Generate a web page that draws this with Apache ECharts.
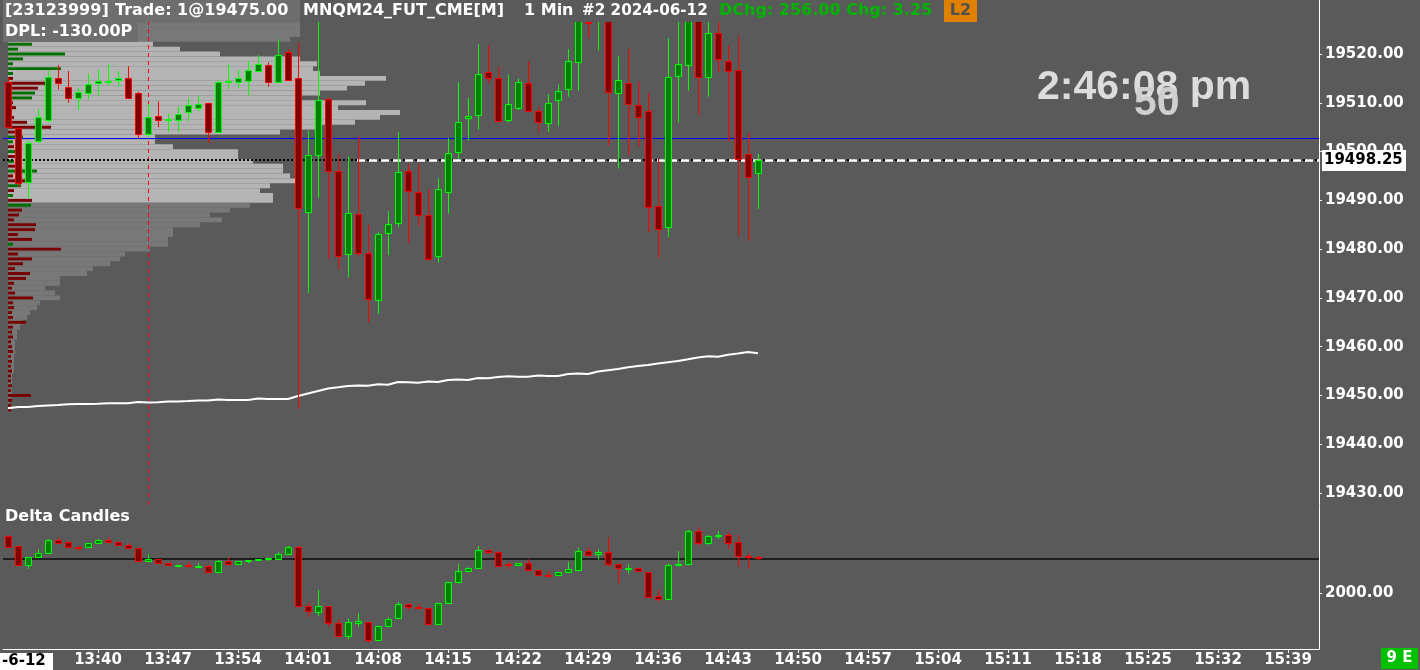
<!DOCTYPE html>
<html><head><meta charset="utf-8">
<script src="https://cdn.jsdelivr.net/npm/echarts@6/dist/echarts.min.js"></script>
<style>html,body{margin:0;padding:0;background:#5a5a5a;overflow:hidden}#chart{width:1420px;height:670px}</style>
</head><body><div id="chart"></div>
<script>
const times = ['13:31','13:32','13:33','13:34','13:35','13:36','13:37','13:38','13:39','13:40',
'13:41','13:42','13:43','13:44','13:45','13:46','13:47','13:48','13:49','13:50',
'13:51','13:52','13:53','13:54','13:55','13:56','13:57','13:58','13:59','14:00',
'14:01','14:02','14:03','14:04','14:05','14:06','14:07','14:08','14:09','14:10',
'14:11','14:12','14:13','14:14','14:15','14:16','14:17','14:18','14:19','14:20',
'14:21','14:22','14:23','14:24','14:25','14:26','14:27','14:28','14:29','14:30',
'14:31','14:32','14:33','14:34','14:35','14:36','14:37','14:38','14:39','14:40',
'14:41','14:42','14:43','14:44','14:45','14:46'];

const open = [19514.25,19504.75,19493.75,19502.0,19506.5,19515.0,19513.25,19511.0,19512.0,19514.0,
19514.25,19514.5,19515.0,19512.0,19503.5,19507.25,19506.5,19506.5,19508.0,19509.0,
19510.0,19504.0,19514.25,19514.25,19514.5,19516.5,19517.75,19514.25,19520.5,19515.0,
19487.5,19499.25,19510.75,19496.0,19479.0,19487.25,19479.25,19469.5,19483.5,19485.25,
19496.0,19491.75,19487.0,19478.5,19491.75,19499.75,19506.75,19507.5,19516.25,19515.0,
19506.5,19509.0,19514.0,19508.25,19506.0,19510.75,19512.75,19518.5,19526.5,19527.0,
19527.75,19512.0,19514.0,19509.5,19508.25,19488.75,19484.5,19515.5,19517.75,19528.25,
19515.25,19524.25,19518.5,19516.75,19499.5,19495.5];
const high = [19515.25,19505.0,19502.25,19508.75,19516.5,19517.75,19516.5,19513.0,19516.0,19516.75,
19518.0,19516.5,19517.5,19512.25,19509.75,19510.25,19507.75,19509.25,19511.0,19511.5,
19510.0,19514.75,19518.0,19516.75,19518.5,19519.75,19518.25,19523.0,19521.0,19522.25,
19504.25,19527.0,19511.0,19499.5,19499.0,19503.0,19485.0,19483.5,19487.75,19504.0,
19497.5,19497.5,19492.25,19494.5,19502.75,19514.25,19511.0,19522.0,19521.75,19517.25,
19515.75,19515.0,19518.5,19509.25,19511.75,19513.75,19521.0,19529.5,19527.0,19530.0,
19529.0,19519.5,19521.0,19514.25,19512.0,19498.5,19523.25,19528.0,19530.5,19530.0,
19527.5,19527.0,19521.75,19523.75,19503.75,19499.5];
const low = [19505.0,19492.75,19490.5,19501.75,19506.0,19512.75,19510.0,19508.5,19510.75,19511.5,
19513.5,19513.25,19510.75,19502.75,19503.0,19505.0,19504.0,19504.0,19506.25,19508.25,
19501.75,19503.75,19512.75,19513.0,19511.5,19516.25,19513.25,19514.25,19514.5,19447.25,
19471.0,19490.5,19478.0,19476.0,19474.25,19478.5,19465.0,19466.75,19478.75,19484.5,
19481.25,19484.75,19477.75,19477.25,19487.25,19498.5,19502.25,19504.5,19514.0,19506.0,
19506.0,19508.5,19508.25,19504.0,19504.0,19505.25,19511.25,19512.5,19523.25,19520.75,
19501.25,19496.5,19499.25,19501.0,19483.5,19478.25,19482.5,19506.0,19512.5,19507.5,
19511.25,19516.25,19502.0,19482.75,19481.75,19488.25];
const close = [19505.0,19493.5,19501.75,19507.0,19515.25,19514.0,19511.0,19512.25,19513.75,19514.5,
19514.5,19515.0,19511.0,19503.5,19507.0,19506.5,19506.75,19507.75,19509.5,19509.75,
19504.0,19514.25,19514.5,19515.0,19516.75,19518.0,19514.25,19519.75,19514.75,19488.25,
19499.25,19510.5,19496.0,19478.5,19487.5,19479.25,19469.75,19483.0,19485.25,19495.75,
19492.0,19487.0,19478.0,19492.25,19499.75,19506.0,19507.25,19516.0,19515.0,19506.25,
19509.75,19514.25,19508.25,19506.0,19510.0,19512.5,19518.5,19527.25,19526.25,19528.5,
19512.25,19514.75,19509.75,19507.0,19488.5,19484.0,19515.25,19518.0,19528.5,19515.25,
19524.25,19519.0,19516.5,19498.5,19494.75,19498.25];

const vwap = [19447.37,19447.63,19447.63,19447.84,19447.94,19448.04,19448.19,19448.25,19448.25,19448.31,
19448.39,19448.39,19448.39,19448.66,19448.56,19448.60,19448.76,19448.76,19448.86,19448.97,
19448.97,19449.17,19449.07,19449.07,19449.07,19449.38,19449.27,19449.27,19449.27,19449.89,
19450.40,19450.91,19451.43,19451.67,19451.94,19452.04,19452.00,19452.31,19452.21,19452.76,
19452.70,19452.62,19452.86,19452.76,19453.17,19453.27,19453.17,19453.58,19453.54,19453.78,
19453.95,19453.85,19453.85,19454.09,19453.99,19453.99,19454.40,19454.50,19454.40,19454.91,
19455.18,19455.42,19455.79,19456.04,19456.24,19456.55,19456.82,19457.06,19457.41,19457.78,
19458.03,19457.94,19458.36,19458.60,19458.91,19458.64];

const deltaOpen = [2570,2470,2280,2353,2397,2530,2510,2457,2457,2497,
2527,2510,2477,2447,2313,2337,2297,2277,2277,2263,
2267,2207,2317,2287,2320,2327,2337,2343,2387,2457,
1870,1813,1870,1697,1563,1703,1713,1537,1673,1747,
1887,1857,1847,1687,1897,2107,2220,2247,2430,2413,
2287,2273,2297,2227,2177,2173,2203,2233,2420,2387,
2407,2287,2243,2247,2213,1967,1937,2273,2287,2620,
2503,2570,2580,2507,2370,2357];
const deltaHigh = [2580,2470,2357,2437,2537,2557,2517,2457,2497,2540,
2557,2517,2497,2447,2390,2337,2297,2280,2310,2297,
2280,2327,2353,2317,2327,2337,2347,2407,2470,2470,
1907,2030,1870,1740,1747,1797,1713,1673,1757,1910,
1897,1890,1850,1897,2107,2290,2257,2470,2437,2420,
2313,2297,2337,2227,2220,2207,2313,2453,2457,2437,
2557,2287,2287,2250,2213,2030,2297,2420,2630,2657,
2580,2620,2610,2580,2397,2370];
const deltaLow = [2463,2280,2240,2353,2397,2503,2457,2423,2457,2497,
2503,2477,2443,2317,2313,2297,2277,2253,2263,2263,
2207,2207,2287,2287,2297,2327,2320,2343,2387,1863,
1757,1773,1663,1563,1537,1663,1503,1537,1673,1747,
1823,1847,1680,1687,1897,2097,2220,2247,2397,2277,
2237,2273,2223,2177,2170,2173,2203,2233,2383,2333,
2263,2097,2197,2217,1963,1913,1937,2263,2287,2473,
2483,2540,2440,2263,2240,2330];
const deltaClose = [2463,2280,2357,2397,2530,2503,2457,2450,2497,2527,
2503,2477,2443,2317,2337,2297,2277,2280,2263,2270,
2207,2317,2287,2317,2327,2337,2347,2390,2457,1863,
1820,1870,1697,1563,1707,1720,1537,1673,1740,1887,
1857,1847,1687,1897,2107,2220,2247,2430,2413,2277,
2273,2297,2223,2177,2170,2207,2237,2420,2383,2407,
2283,2243,2250,2217,1963,1937,2277,2287,2620,2503,
2570,2580,2503,2363,2357,2343];

const profilePrice = [19526,19525,19524,19523,19522,19521,19520,19519,19518,19517,
19516,19515,19514,19513,19512,19511,19510,19509,19508,19507,
19506,19505,19504,19503,19502,19501,19500,19499,19498,19497,
19496,19495,19494,19493,19492,19491,19490,19489,19488,19487,
19486,19485,19484,19483,19482,19481,19480,19479,19478,19477,
19476,19475,19474,19473,19472,19471,19470,19469,19468,19467,
19466,19465,19464,19463,19462,19461,19460,19459,19458,19457,
19456,19455,19454,19453,19452,19451,19450,19449,19448,19447];
const profileVolume = [584,584,584,564,290,344,424,584,618,610,
624,756,714,678,624,584,716,660,784,744,
694,624,544,294,294,330,460,460,490,550,
550,564,584,524,504,530,530,484,444,404,
428,384,330,330,320,320,284,234,224,204,
170,158,104,104,74,94,104,64,58,44,
38,28,24,18,18,14,14,14,12,12,
12,12,8,8,8,8,8,4,4,4];
const profileDelta = [20,10,30,16,48,20,114,30,10,106,
10,-10,-74,-60,54,48,-10,-16,-8,-12,
-38,-86,-14,30,10,-12,16,-20,12,-16,
58,-10,-34,26,-12,10,-48,46,-28,-22,
-12,-56,-54,-20,-48,10,-106,-20,-48,-30,
-14,-44,-36,-12,-8,-14,-50,-10,-12,-8,
-10,-36,-10,-8,-10,-6,-8,-10,-6,-8,
-6,-8,-6,-6,-8,-6,-46,-8,-6,-6];

const valueAreaHigh = 19522.5;
const valueAreaLow = 19489.5;
const pocPrice = 19502.75;
const lastPrice = 19498.25;
const lastLineStartTime = '14:06';
const sessionMarkerTime = '13:45';
const deltaReference = 2345;
const priceTicks = [19430,19440,19450,19460,19470,19480,19490,19500,19510,19520];
const deltaTicks = [2000];
const timeTicks = ['13:40','13:47','13:54','14:01','14:08','14:15','14:22','14:29','14:36','14:43',
'14:50','14:57','15:04','15:11','15:18','15:25','15:32','15:39'];

const FONT = 'DejaVu Sans';
const toMin = t => { const p = t.split(':').map(Number); return p[0]*60 + p[1]; };
const fmtTime = v => { const h = Math.floor(v/60), m = Math.round(v - h*60); return h + ':' + String(m).padStart(2,'0'); };
const xs = times.map(toMin);
const X_MIN = xs[0] - 0.5;
const X_MAX = X_MIN + 131.6;
const tickValues = timeTicks.map(toMin);

function candleRender(params, api) {
  const x = api.value(0), o = api.value(1), c = api.value(2), l = api.value(3), h = api.value(4);
  const po = api.coord([x, o]), pc = api.coord([x, c]), pl = api.coord([x, l]), ph = api.coord([x, h]);
  const up = c >= o;
  const cx = Math.round(po[0]) + 0.5;
  const top = Math.round(Math.min(po[1], pc[1])) + 0.5;
  let bh = Math.round(Math.abs(po[1] - pc[1]));
  if (bh < 1) bh = 1;
  const stroke = up ? '#00ff00' : '#ff0000';
  const fill = up ? '#008000' : '#800000';
  return {type:'group', children:[
    {type:'line', shape:{x1:cx, y1:ph[1], x2:cx, y2:pl[1]}, style:{stroke:stroke, lineWidth:1}},
    {type:'rect', shape:{x:cx-3, y:top, width:6, height:bh}, style:{fill:fill, stroke:stroke, lineWidth:1}}
  ]};
}
function profileRender(params, api) {
  const vol = api.value(0), price = api.value(1);
  const a = api.coord([0, price + 0.5]), b = api.coord([vol, price - 0.5]);
  const inVA = price <= valueAreaHigh && price >= valueAreaLow;
  return {type:'rect', shape:{x:a[0], y:a[1], width:b[0]-a[0], height:b[1]-a[1]},
    style:{fill: inVA ? '#b4b4b4' : '#787878'}};
}
function deltaProfileRender(params, api) {
  const d = api.value(0), price = api.value(1);
  const a = api.coord([0, price + 0.3]), b = api.coord([Math.abs(d), price - 0.3]);
  return {type:'rect', shape:{x:a[0], y:a[1], width:b[0]-a[0], height:b[1]-a[1]},
    style:{fill: d >= 0 ? '#006e00' : '#780000'}};
}

const chart = echarts.init(document.getElementById('chart'), null, {renderer:'canvas', width:1420, height:670});
const axisLabelStyle = {color:'#ffffff', fontFamily:FONT, fontWeight:'bold', fontSize:15};

const option = {
  backgroundColor:'#5a5a5a',
  animation:false,
  grid:[
    {left:3, top:0, width:1316, height:505, outerBoundsMode:'none'},
    {left:3, top:506, width:1316, height:143, outerBoundsMode:'none'}
  ],
  xAxis:[
    {gridIndex:0, type:'value', min:X_MIN, max:X_MAX, show:false},
    {gridIndex:1, type:'value', min:X_MIN, max:X_MAX,
      axisLine:{show:true, onZero:false, lineStyle:{color:'#ffffff', width:1}},
      axisTick:{show:true, length:4, customValues:tickValues, lineStyle:{color:'#ffffff'}},
      axisLabel:Object.assign({customValues:tickValues, formatter:fmtTime, margin:4}, axisLabelStyle),
      splitLine:{show:false}},
    {gridIndex:0, type:'value', min:-10, max:2622, show:false}
  ],
  yAxis:[
    {gridIndex:0, type:'value', position:'right', min:19427.55, max:19531.07,
      axisLine:{show:true, onZero:false, lineStyle:{color:'#ffffff', width:1}},
      axisTick:{show:true, length:3, customValues:priceTicks, lineStyle:{color:'#ffffff'}},
      axisLabel:Object.assign({customValues:priceTicks, formatter:v => v.toFixed(2), margin:6}, axisLabelStyle),
      splitLine:{show:false}},
    {gridIndex:1, type:'value', position:'right', min:1440, max:2870,
      axisLine:{show:true, onZero:false, lineStyle:{color:'#ffffff', width:1}},
      axisTick:{show:true, length:3, customValues:deltaTicks, lineStyle:{color:'#ffffff'}},
      axisLabel:Object.assign({customValues:deltaTicks, formatter:v => v.toFixed(2), margin:6}, axisLabelStyle),
      splitLine:{show:false}}
  ],
  series:[
    {name:'refLines', type:'line', xAxisIndex:0, yAxisIndex:0, data:[], z:1, silent:true,
      markLine:{silent:true, symbol:['none','none'], label:{show:false}, animation:false, emphasis:{disabled:true},
        data:[
          {yAxis:pocPrice, lineStyle:{color:'#0000ff', width:1.2, type:'solid'}},
          {xAxis:toMin(sessionMarkerTime), lineStyle:{color:'#ff0000', width:1, type:[4,4]}}
        ]}},
    {name:'profile', type:'custom', xAxisIndex:2, yAxisIndex:0, z:2, silent:true,
      data:profilePrice.map((p,i) => [profileVolume[i], p]), encode:{x:0, y:1}, renderItem:profileRender},
    {name:'deltaProfile', type:'custom', xAxisIndex:2, yAxisIndex:0, z:3, silent:true,
      data:profilePrice.map((p,i) => [profileDelta[i], p]), encode:{x:0, y:1}, renderItem:deltaProfileRender},
    {name:'vwap', type:'line', xAxisIndex:0, yAxisIndex:0, z:4, silent:true, symbol:'none', showSymbol:false,
      data:xs.map((x,i) => [x, vwap[i]]), lineStyle:{color:'#ffffff', width:2}},
    {name:'price', type:'custom', xAxisIndex:0, yAxisIndex:0, z:5, silent:true, clip:true,
      data:xs.map((x,i) => [x, open[i], close[i], low[i], high[i]]), encode:{x:0, y:[1,2,3,4]}, renderItem:candleRender},
    {name:'lastPrice', type:'line', xAxisIndex:0, yAxisIndex:0, data:[], z:6, silent:true,
      markLine:{silent:true, symbol:['none','none'], label:{show:false}, animation:false, emphasis:{disabled:true},
        data:[
          {yAxis:lastPrice, lineStyle:{color:'#000000', width:2, type:[2,2]}},
          [{coord:[toMin(lastLineStartTime)-0.1, lastPrice], lineStyle:{color:'#ffffff', width:2.5, type:[8,4]}},
           {coord:[X_MAX, lastPrice]}]
        ]}},
    {name:'deltaRef', type:'line', xAxisIndex:1, yAxisIndex:1, data:[], z:1, silent:true,
      markLine:{silent:true, symbol:['none','none'], label:{show:false}, animation:false, emphasis:{disabled:true},
        data:[{yAxis:deltaReference, lineStyle:{color:'#1e1e1e', width:2, type:'solid'}}]}},
    {name:'delta', type:'custom', xAxisIndex:1, yAxisIndex:1, z:5, silent:true, clip:true,
      data:xs.map((x,i) => [x, deltaOpen[i], deltaClose[i], deltaLow[i], deltaHigh[i]]), encode:{x:0, y:[1,2,3,4]}, renderItem:candleRender}
  ]
};
chart.setOption(option);

const yLast = chart.convertToPixel({yAxisIndex:0}, lastPrice);
function txt(text, x, y, size, color, family, align, weight) {
  return {type:'text', x:x, y:y, z:100, silent:true,
    style:{text:text, fill:color, fontSize:size, fontWeight:weight || 'bold', fontFamily:family || FONT,
      textAlign:align || 'left', align:align || 'left', textVerticalAlign:'middle', verticalAlign:'middle'}};
}
function box(x, y, w, h, color) {
  return {type:'rect', z:99, silent:true, shape:{x:x, y:y, width:w, height:h}, style:{fill:color}};
}
chart.setOption({graphic:{elements:[
  box(0, 0, 980, 22, '#5a5a5a'),
  box(3, 0, 297, 22, '#6e6e6e'),
  txt('[23123999]', 5, 11, 16, '#ffffff'),
  txt('Trade: 1@19475.00', 115, 11, 16, '#ffffff'),
  txt('MNQM24_FUT_CME[M]', 303, 11, 16, '#ffffff'),
  txt('1 Min', 524, 11, 16, '#ffffff'),
  txt('#2 2024-06-12', 582, 11, 15.2, '#ffffff'),
  txt('DChg: 256.00 Chg: 3.25', 719, 11, 16, '#00b400'),
  box(944, 0, 33, 22, '#e08000'),
  txt('L2', 960.5, 11, 16, '#505050', FONT, 'center'),
  box(3, 22, 135, 20, '#6e6e6e'),
  txt('DPL: -130.00P', 5, 32, 16, '#ffffff'),
  txt('Delta Candles', 5, 517, 16, '#ffffff'),
  txt('2:46:08 pm', 1037, 88, 41, '#dcdcdc', 'Liberation Sans'),
  txt('50', 1134, 104, 41, '#cfcfcf', 'Liberation Sans'),
  box(1322, yLast - 10, 84, 21, '#ffffff'),
  txt(lastPrice.toFixed(2), 1324, yLast + 0.5, 15, '#000000'),
  box(0, 653, 53, 17, '#ffffff'),
  txt('-6-12', 2, 661.5, 15, '#000000'),
  box(1381, 648, 37, 21, '#00c000'),
  txt('9 E', 1399.5, 658.5, 15, '#ffffff', FONT, 'center')
]}});
</script>
</body></html>
